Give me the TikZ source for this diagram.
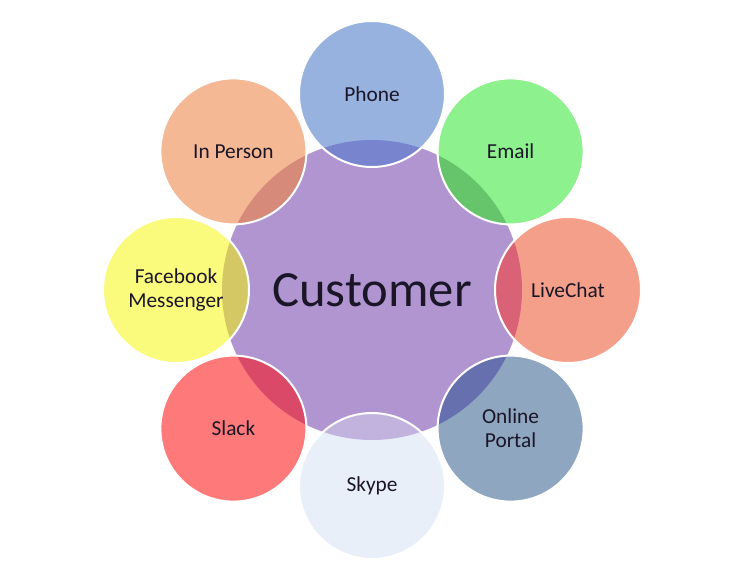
\documentclass[tikz,border=0pt]{standalone}
\usepackage{fontspec}
\setmainfont{Carlito}
\usetikzlibrary{positioning}

\definecolor{hubcol}{HTML}{B195D1}
\definecolor{phonecol}{HTML}{97B2DF}
\definecolor{phoneov}{HTML}{7884CD}
\definecolor{emailcol}{HTML}{8DF18D}
\definecolor{emailov}{HTML}{66C46B}
\definecolor{chatcol}{HTML}{F49F8A}
\definecolor{chatov}{HTML}{DA6276}
\definecolor{portalcol}{HTML}{8EA6BF}
\definecolor{portalov}{HTML}{6670AE}
\definecolor{skypecol}{HTML}{E9EFF8}
\definecolor{skypeov}{HTML}{C2B3DE}
\definecolor{slackcol}{HTML}{FE7A7A}
\definecolor{slackov}{HTML}{DA4A68}
\definecolor{fbcol}{HTML}{FAFA7C}
\definecolor{fbov}{HTML}{D4C865}
\definecolor{personcol}{HTML}{F4B895}
\definecolor{personov}{HTML}{D58A7A}
\definecolor{txtcol}{HTML}{1A1628}

\begin{document}
\begin{tikzpicture}[hub/.style={circle, fill=hubcol, minimum size=225pt, inner sep=0pt, text=txtcol, font=\fontsize{38}{45}\selectfont},
  bubble/.style={circle, draw=white, line width=1.5pt, minimum size=109.5pt, inner sep=0pt, align=center, text=txtcol, font=\fontsize{16}{18}\selectfont, path picture={\fill[#1] (hub.center) circle [radius=112.5pt];}}]
\useasboundingbox (-279pt,-216pt) rectangle (283.5pt,217.5pt);
\node (hub) [hub] at (0,0) {Customer};
% channels round the customer
\node (phone) [bubble=phoneov, fill=phonecol] at (90:147pt) {Phone};
\node (email) [bubble=emailov, fill=emailcol] at (45:147pt) {Email};
\node (chat) [bubble=chatov, fill=chatcol] at (0:147pt) {LiveChat};
\node (portal) [bubble=portalov, fill=portalcol] at (-45:147pt) {Online\\Portal};
\node (skype) [bubble=skypeov, fill=skypecol] at (-90:147pt) {Skype};
\node (slack) [bubble=slackov, fill=slackcol] at (-135:147pt) {Slack};
\node (fb) [bubble=fbov, fill=fbcol] at (180:147pt) {Facebook\\Messenger};
\node (person) [bubble=personov, fill=personcol] at (135:147pt) {In Person};
\end{tikzpicture}
\end{document}
